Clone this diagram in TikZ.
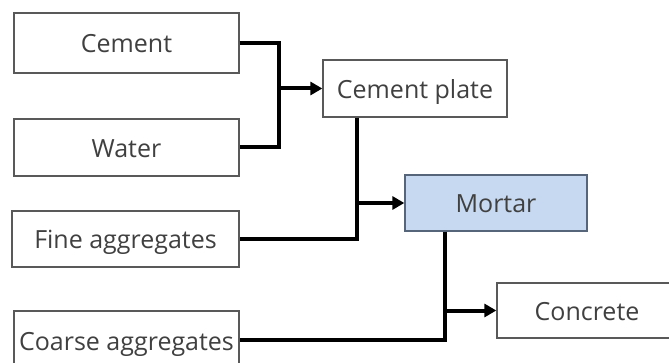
\documentclass[tikz,border=0pt]{standalone}
\usepackage{fontspec}
\setmainfont{Open Sans}
\usetikzlibrary{arrows.meta}
\definecolor{txt}{HTML}{404040}
\definecolor{bord}{HTML}{595959}
\definecolor{mfill}{HTML}{C6D9F1}
\definecolor{mbord}{HTML}{56657A}
\tikzset{
  box/.style={draw=bord, line width=1.3pt, fill=white, rectangle, inner sep=0pt,
    text=txt, font=\fontsize{25}{30}\selectfont, text height=22pt, text depth=2pt},
  conn/.style={line width=4pt, black},
  arr/.style={conn, -{Triangle[length=12pt,width=13pt]}},
}
\begin{document}
\begin{tikzpicture}[x=1pt,y=-1pt]
\useasboundingbox (0,0) rectangle (669,363);
\node[box, minimum width=225pt, minimum height=60pt] (cement) at (126.5,43) {Cement};
\node[box, minimum width=225pt, minimum height=57pt] (water) at (126.5,147.5) {Water};
\node[box, minimum width=227pt, minimum height=56pt] (fine) at (125.5,239) {Fine aggregates};
\node[box, minimum width=225pt, minimum height=58pt] (coarse) at (126.5,340) {Coarse aggregates};
\node[box, minimum width=184pt, minimum height=57pt] (plate) at (415,88.5) {Cement plate};
\node[box, draw=mbord, fill=mfill, minimum width=182pt, minimum height=56pt] (mortar) at (496,203) {Mortar};
\node[box, minimum width=180pt, minimum height=55pt] (concrete) at (587,310.5) {Concrete};
\coordinate (j1) at (279,88.5);
\coordinate (j2) at (357,203);
\coordinate (j3) at (445,310.5);
\draw[conn] (cement.east) -| (j1) |- (water.east);
\draw[arr] (j1) -- (plate.west);
\draw[conn] (plate.south -| j2) -- (j2) |- (fine.east);
\draw[arr] (j2) -- (mortar.west);
\draw[conn] (mortar.south -| j3) -- (j3) |- (coarse.east);
\draw[arr] (j3) -- (concrete.west);
\end{tikzpicture}
\end{document}
